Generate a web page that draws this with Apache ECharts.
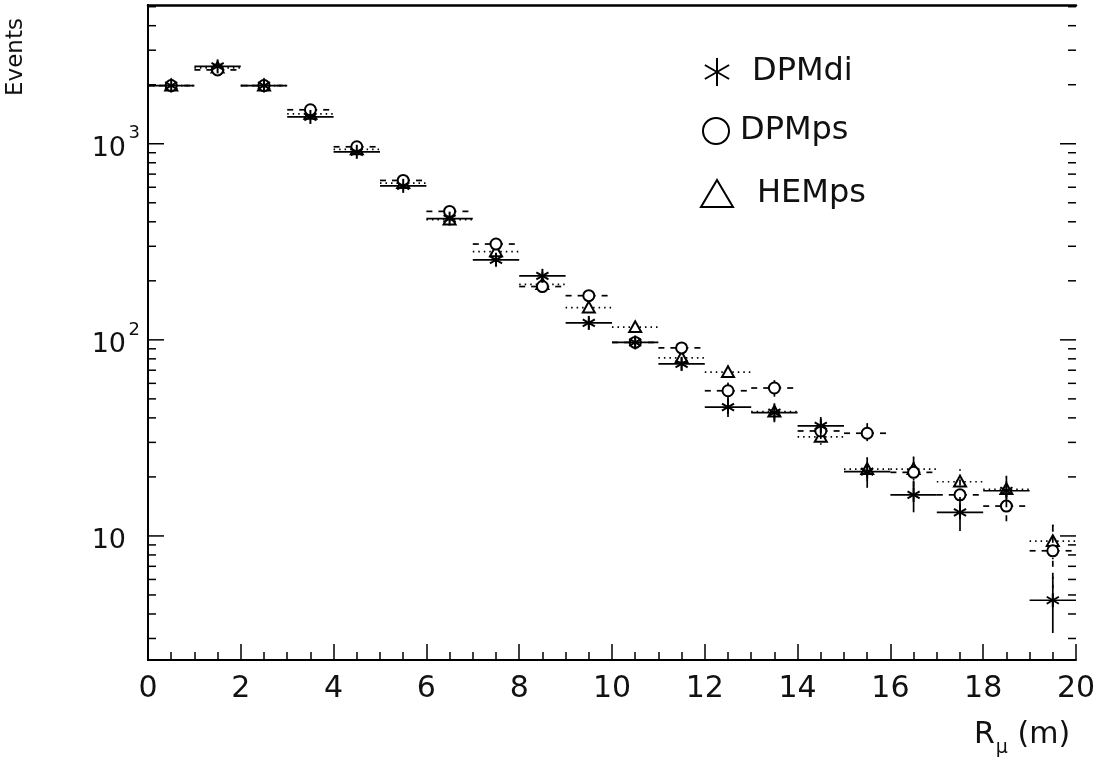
<!DOCTYPE html>
<html><head><meta charset="utf-8">
<script src="https://cdn.jsdelivr.net/npm/echarts@6/dist/echarts.min.js"></script>
<style>html,body{margin:0;padding:0;background:#fff}#c{width:1103px;height:758px}</style>
</head><body><div id="c"></div>
<script>
// ---- data ----
const binCenters = [0.5,1.5,2.5,3.5,4.5,5.5,6.5,7.5,8.5,9.5,10.5,11.5,12.5,13.5,14.5,15.5,16.5,17.5,18.5,19.5];
const binHalfWidth = 0.5;
const dpmdiValues = [1980,2480,1980,1370,910,610,415,256,212,122,97,75.5,45.4,42.5,36.4,21.3,16.2,13.2,17.0,4.7];
const dpmdiErrors = [30,35,30,25,21,17,14,11,10,8,7,6,5,4.5,4,3.7,3,2.6,3,1.5];
const dpmpsValues = [1980,2380,1980,1490,965,650,452,308,187,168,97,91,55,56.8,34.3,33.4,21.1,16.2,14.2,8.4];
const dpmpsErrors = [30,34,30,27,22,18,15,12,10,9,7,6.5,5.5,5.5,4.3,4.2,4,3.2,2.7,3];
const hempsValues = [1980,2440,1980,1420,935,630,410,282,192,146,116,81,68.4,43,32,21.9,21.9,18.9,17.3,9.4];
const hempsErrors = [30,34,30,26,21,17,14,12,10,8.5,7.5,6,5.5,4.5,4,3.3,3.5,3,3,2];
const xTickLabels = ['0','2','4','6','8','10','12','14','16','18','20'];
const yDecadeLabels = {1:'10', 2:'10{s|2}', 3:'10{s|3}'};
const seriesNames = ['DPMdi','DPMps','HEMps'];

const FONT = 'DejaVu Sans';
const yMin = 2.33, yMax = 5100;

// minor tick positions on the log axis (2..9 x 10^k)
const yTickValues = [];
for (let k = 0; k <= 3; k++) for (let m = 1; m <= 9; m++) {
  const v = m * Math.pow(10, k);
  if (v >= yMin && v <= yMax) yTickValues.push([v, m === 1 ? 1 : 0]);
}

function rows(vals, errs) { return binCenters.map((x, i) => [x, vals[i], errs[i]]); }

function makeRender(marker, dash) {
  return function (params, api) {
    const x = api.value(0), v = api.value(1), e = api.value(2);
    const pL = api.coord([x - binHalfWidth, v]);
    const pR = api.coord([x + binHalfWidth, v]);
    const pC = api.coord([x, v]);
    const pT = api.coord([x, v + e]);
    const pB = api.coord([x, Math.max(v - e, yMin)]);
    const ls = {stroke: '#000', lineWidth: 1.7, lineDash: dash, fill: null};
    const children = [
      {type: 'line', shape: {x1: pL[0], y1: pL[1], x2: pR[0], y2: pR[1]}, style: ls},
      {type: 'line', shape: {x1: pT[0], y1: pT[1], x2: pB[0], y2: pB[1]}, style: ls}
    ];
    const cx = pC[0], cy = pC[1];
    if (marker === 'star') {
      const r = 7;
      for (let a = 0; a < 3; a++) {
        const ang = Math.PI / 2 + a * Math.PI / 3;
        children.push({type: 'line', shape: {x1: cx - r * Math.cos(ang), y1: cy - r * Math.sin(ang), x2: cx + r * Math.cos(ang), y2: cy + r * Math.sin(ang)}, style: {stroke: '#000', lineWidth: 2}});
      }
    } else if (marker === 'circle') {
      children.push({type: 'circle', shape: {cx: cx, cy: cy, r: 5.5}, style: {fill: '#fff', stroke: '#000', lineWidth: 2}});
    } else {
      const h = 6;
      children.push({type: 'polygon', shape: {points: [[cx, cy - h], [cx + h, cy + h * 0.8], [cx - h, cy + h * 0.8]]}, style: {fill: '#fff', stroke: '#000', lineWidth: 2}});
    }
    return {type: 'group', children: children};
  };
}

function tickRender(params, api) {
  const cs = params.coordSys;
  const y = api.coord([0, api.value(0)])[1];
  const len = api.value(1) ? 16 : 8;
  const st = {stroke: '#000', lineWidth: 1.5};
  return {type: 'group', children: [
    {type: 'line', shape: {x1: cs.x, y1: y, x2: cs.x + len, y2: y}, style: st},
    {type: 'line', shape: {x1: cs.x + cs.width, y1: y, x2: cs.x + cs.width - len, y2: y}, style: st}
  ]};
}

const chart = echarts.init(document.getElementById('c'), null, {renderer: 'canvas'});

// legend drawn as graphic
const legendTextStyle = {fontSize: 32, fontFamily: FONT, fill: '#111'};
function starLines(cx, cy, r) {
  const out = [];
  for (let a = 0; a < 3; a++) {
    const ang = Math.PI / 2 + a * Math.PI / 3;
    out.push({type: 'line', shape: {x1: cx - r * Math.cos(ang), y1: cy - r * Math.sin(ang), x2: cx + r * Math.cos(ang), y2: cy + r * Math.sin(ang)}, style: {stroke: '#000', lineWidth: 2}});
  }
  return out;
}

const option = {
  backgroundColor: '#fff',
  animation: false,
  grid: {left: 148, right: 27, top: 5, bottom: 98, containLabel: false},
  xAxis: [{
    type: 'value', min: 0, max: 20, interval: 2,
    axisLine: {show: true, onZero: false, lineStyle: {color: '#000', width: 2}},
    axisTick: {show: true, inside: true, length: 16, lineStyle: {color: '#000', width: 1.5}},
    minorTick: {show: true, splitNumber: 4, length: 8, lineStyle: {color: '#000', width: 1.5}},
    splitLine: {show: false},
    axisLabel: {fontSize: 30, fontFamily: FONT, color: '#111', margin: 14,
      formatter: function (v) { const i = Math.round(v / 2); return xTickLabels[i] !== undefined ? xTickLabels[i] : ''; }}
  }, {
    type: 'value', position: 'top', min: 0, max: 20,
    axisLine: {show: true, onZero: false, lineStyle: {color: '#000', width: 2.5}},
    axisTick: {show: false}, axisLabel: {show: false}, splitLine: {show: false}
  }],
  yAxis: [{
    type: 'log', logBase: 10, min: yMin, max: yMax,
    axisLine: {show: true, lineStyle: {color: '#000', width: 2}},
    axisTick: {show: false}, splitLine: {show: false}, minorTick: {show: false},
    axisLabel: {
      showMinLabel: false, showMaxLabel: false, margin: 8,
      formatter: function (v) {
        const l = Math.log10(v);
        if (Math.abs(l - Math.round(l)) > 1e-6) return '';
        const s = yDecadeLabels[Math.round(l)];
        if (!s) return '';
        return s.indexOf('{s|') >= 0 ? '{b|' + s.replace('{s|', '}{s|') : '{b|' + s + '}{sp|}';
      },
      rich: {
        b: {fontSize: 27, fontFamily: FONT, color: '#111', lineHeight: 38, verticalAlign: 'bottom'},
        s: {fontSize: 18, fontFamily: FONT, color: '#111', lineHeight: 18, verticalAlign: 'top', width: 13, padding: [0, 0, 0, 1]},
        sp: {width: 14}
      }
    }
  }, {
    type: 'log', logBase: 10, min: yMin, max: yMax, position: 'right',
    axisLine: {show: true, lineStyle: {color: '#000', width: 2}},
    axisTick: {show: false}, axisLabel: {show: false}, splitLine: {show: false}
  }],
  series: [
    {type: 'custom', name: 'ticks', silent: true, clip: false, data: yTickValues,
      renderItem: tickRender, encode: {y: 0}},
    {type: 'custom', name: seriesNames[2], data: rows(hempsValues, hempsErrors), renderItem: makeRender('triangle', [1.5, 4]), encode: {x: 0, y: 1}},
    {type: 'custom', name: seriesNames[1], data: rows(dpmpsValues, dpmpsErrors), renderItem: makeRender('circle', [6, 6]), encode: {x: 0, y: 1}},
    {type: 'custom', name: seriesNames[0], data: rows(dpmdiValues, dpmdiErrors), renderItem: makeRender('star', null), encode: {x: 0, y: 1}}
  ],
  graphic: [
    {type: 'text', x: 16, y: 57, rotation: Math.PI / 2,
      style: {text: 'Events', fontSize: 23, fontFamily: FONT, fill: '#111', align: 'center', verticalAlign: 'middle'}},
    {type: 'text', x: 974, y: 741,
      style: {text: '{a|R}{u|μ}{a| (m)}', verticalAlign: 'middle', fill: '#111',
        rich: {a: {fontSize: 30, fontFamily: FONT, fill: '#111', lineHeight: 42, verticalAlign: 'top'},
               u: {fontSize: 19, fontFamily: FONT, fill: '#111', lineHeight: 42, verticalAlign: 'bottom', padding: [0, 0, 4, 1]}}}},
    {type: 'group', children: starLines(717, 72, 14)},
    {type: 'text', x: 752, y: 72, style: Object.assign({text: seriesNames[0], verticalAlign: 'middle'}, legendTextStyle)},
    {type: 'circle', shape: {cx: 716, cy: 131, r: 13}, style: {fill: null, stroke: '#000', lineWidth: 2}},
    {type: 'text', x: 740, y: 131, style: Object.assign({text: seriesNames[1], verticalAlign: 'middle'}, legendTextStyle)},
    {type: 'polygon', shape: {points: [[717, 180], [733, 207], [701, 207]]}, style: {fill: null, stroke: '#000', lineWidth: 2}},
    {type: 'text', x: 757, y: 194, style: Object.assign({text: seriesNames[2], verticalAlign: 'middle'}, legendTextStyle)}
  ]
};
chart.setOption(option);
</script>
</body></html>
